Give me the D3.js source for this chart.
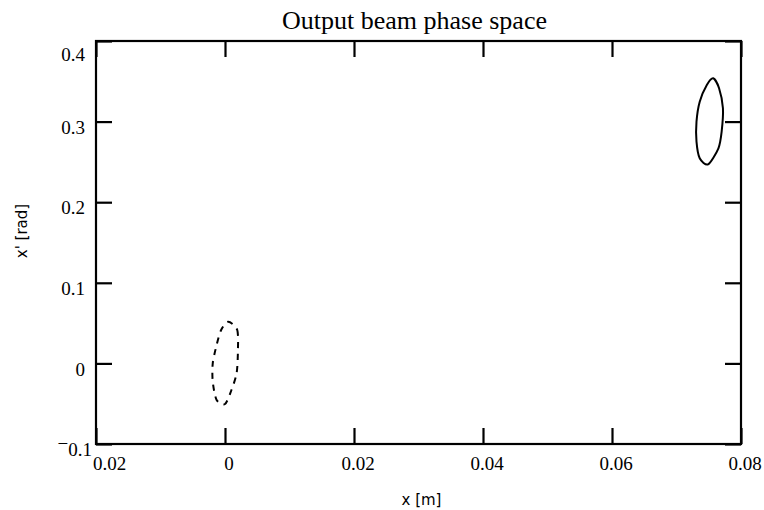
<!DOCTYPE html>
<html>
<head>
<meta charset="utf-8">
<script src="https://cdn.jsdelivr.net/npm/d3@7"></script>
<style>
  body { margin: 0; background: #fff; }
  svg { display: block; }
</style>
</head>
<body>
<svg id="chart" width="764" height="510"></svg>
<script>
// tick values and their printed labels (as shown on the picture)
const xTicks = [-0.02, 0, 0.02, 0.04, 0.06, 0.08];
const xTickLabels = ["0.02", "0", "0.02", "0.04", "0.06", "0.08"];
const yTicks = [-0.1, 0, 0.1, 0.2, 0.3, 0.4];
const yTickLabels = ["0.1", "0", "0.1", "0.2", "0.3", "0.4"];

// output beam ellipse (solid) [x, x']
const outX = [0.0757, 0.0766, 0.0772, 0.0770, 0.0765, 0.0749, 0.0736, 0.0731, 0.0731, 0.0736, 0.0747];
const outY = [0.3537, 0.3413, 0.3165, 0.2875, 0.2669, 0.2470, 0.2545, 0.2751, 0.2999, 0.3247, 0.3454];

// input beam ellipse (dashed)
const inX = [0.0005, 0.0019, 0.0020, 0.0018, 0.0010, 0.0000, -0.0013, -0.0019, -0.0019, -0.0013, -0.0006];
const inY = [0.0517, 0.0414, 0.0145, -0.0123, -0.0330, -0.0504, -0.0454, -0.0227, 0.0001, 0.0228, 0.0414];

const svg = d3.select('#chart');
const margin = { top: 41, right: 23, bottom: 66, left: 96 };
const width = +svg.attr('width') - margin.left - margin.right;
const height = +svg.attr('height') - margin.top - margin.bottom;

const xScale = d3.scaleLinear().domain([-0.02, 0.08]).range([0, width]);
const yScale = d3.scaleLinear().domain([-0.1, 0.4]).range([height, 0]);

const g = svg.append('g').attr('transform', `translate(${margin.left},${margin.top})`);

const serif = '"Liberation Serif", "Times New Roman", serif';

// axes with inward ticks
const tick = 16;
const bottom = g.append('g').attr('transform', `translate(0,${height})`)
  .call(d3.axisBottom(xScale).tickValues(xTicks).tickSize(-tick).tickPadding(13)
    .tickFormat((d, i) => xTickLabels[i]));
g.append('g')
  .call(d3.axisTop(xScale).tickValues(xTicks).tickSize(-tick).tickFormat(''));
const left = g.append('g')
  .call(d3.axisLeft(yScale).tickValues(yTicks).tickSize(-tick).tickPadding(11)
    .tickFormat((d, i) => yTickLabels[i]));
g.append('g').attr('transform', `translate(${width},0)`)
  .call(d3.axisRight(yScale).tickValues(yTicks).tickSize(-tick).tickFormat(''));

g.selectAll('.domain').remove();
g.selectAll('.tick line').attr('stroke', '#000').attr('stroke-width', 2.2);
g.selectAll('.tick text').attr('font-family', serif).attr('font-size', 19).attr('fill', '#000');

// nudge labels the way the original plot places them
bottom.selectAll('.tick text').attr('dx', (d, i) => i === 0 ? 13 : 3.5);
left.selectAll('.tick text')
  .attr('dy', d => d === 0.4 ? '1.0em' : '0.62em')
  .attr('dx', d => d === -0.1 ? 7 : 0);

// raised minus sign in front of the lowest y label
left.selectAll('.tick text').filter(d => d === -0.1)
  .each(function () {
    const t = d3.select(this);
    const label = t.text();
    t.text(null).attr('dy', null);
    t.append('tspan').attr('dy', '0.3em').text('\u2212');
    t.append('tspan').attr('dy', '0.3em').text(label);
  });

// frame
g.append('rect')
  .attr('width', width).attr('height', height)
  .attr('fill', 'none').attr('stroke', '#000').attr('stroke-width', 2.2);

// ellipses
const line = d3.line()
  .x(d => xScale(d[0]))
  .y(d => yScale(d[1]))
  .curve(d3.curveCardinalClosed.tension(0.2));

g.append('path')
  .datum(outX.map((v, i) => [v, outY[i]]))
  .attr('d', line)
  .attr('fill', 'none').attr('stroke', '#000').attr('stroke-width', 2);

g.append('path')
  .datum(inX.map((v, i) => [v, inY[i]]))
  .attr('d', line)
  .attr('fill', 'none').attr('stroke', '#000').attr('stroke-width', 2)
  .attr('stroke-dasharray', '6,6');

// title and axis labels
svg.append('text')
  .attr('x', margin.left + width / 2 - 4).attr('y', 29)
  .attr('text-anchor', 'middle')
  .attr('font-family', serif).attr('font-size', 26)
  .text('Output beam phase space');

svg.append('text')
  .attr('x', margin.left + width / 2 + 3).attr('y', 505)
  .attr('text-anchor', 'middle')
  .attr('font-family', '"DejaVu Sans", sans-serif').attr('font-size', 15)
  .text('x [m]');

svg.append('text')
  .attr('transform', `translate(27,231) rotate(-90)`)
  .attr('text-anchor', 'middle')
  .attr('font-family', '"DejaVu Sans", sans-serif').attr('font-size', 15)
  .text("x' [rad]");
</script>
</body>
</html>
